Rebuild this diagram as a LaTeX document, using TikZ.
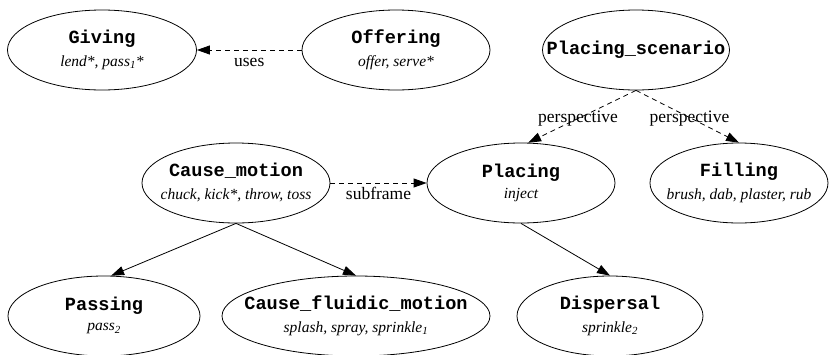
\documentclass[tikz,border=0pt]{standalone}
\usepackage{fontspec}
\setmainfont{Liberation Serif}
\setmonofont{Liberation Mono}
\usetikzlibrary{shapes.geometric,arrows.meta}

\newcommand{\frname}[1]{{\fontsize{18.6}{20}\selectfont\ttfamily\bfseries #1}}
\newcommand{\lus}[1]{{\fontsize{15.5}{18}\selectfont\itshape #1}}
\newcommand{\frameitem}[2]{\makebox[0pt]{\begin{tabular}{@{}c@{}}\frname{#1}\\[8pt]\lus{#2}\end{tabular}}}

\begin{document}
\begin{tikzpicture}[x=1pt,y=-1pt,line width=0.8pt,
  frm/.style={ellipse,draw,inner sep=0pt,minimum height=80pt},
  rel/.style={-{Triangle[length=13pt,width=9pt]}},
  dashrel/.style={rel,dash pattern=on 5pt off 4pt},
  lbl/.style={font=\fontsize{17.5}{20}\selectfont,inner sep=0pt,anchor=base}]
    \useasboundingbox (0,0) rectangle (830,354);
    \node[frm,minimum width=189pt] (giving) at (102,50) {\frameitem{Giving}{lend*, pass\textsubscript{1}*}};
    \node[frm,minimum width=188pt] (offering) at (396,50) {\frameitem{Offering}{offer, serve*}};
    \node[frm,minimum width=187pt] (scenario) at (636,50) {\makebox[0pt]{\frname{Placing\_scenario}}};
    \node[frm,minimum width=188pt] (causemotion) at (236,183) {\frameitem{Cause\_motion}{chuck, kick*, throw, toss}};
    \node[frm,minimum width=188pt] (placing) at (521,183) {\frameitem{Placing}{inject}};
    \node[frm,minimum width=178pt] (filling) at (739,183) {\frameitem{Filling}{brush, dab, plaster, rub}};
    \node[frm,minimum width=192pt] (passing) at (104,316) {\frameitem{Passing}{pass\textsubscript{2}}};
    \node[frm,minimum width=268pt] (fluidic) at (356,316) {\frameitem{Cause\_fluidic\_motion}{splash, spray, sprinkle\textsubscript{1}}};
    \node[frm,minimum width=186pt] (dispersal) at (610,316) {\frameitem{Dispersal}{sprinkle\textsubscript{2}}};

    \draw[dashrel] (offering) -- node[lbl,yshift=-16pt] {uses} (giving);
    \draw[dashrel] (causemotion) -- node[lbl,yshift=-16pt] {subframe} (placing);
    \draw[dashrel] (scenario.south) -- node[lbl,xshift=-4pt,yshift=-6pt] {perspective} (placing.80);
    \draw[dashrel] (scenario.south) -- node[lbl,xshift=2pt,yshift=-6pt] {perspective} (filling.north);
    \draw[rel] (causemotion.south) -- (passing.80);
    \draw[rel] (causemotion.south) -- (fluidic.north);
    \draw[rel] (placing.south) -- (dispersal.north);
\end{tikzpicture}
\end{document}
